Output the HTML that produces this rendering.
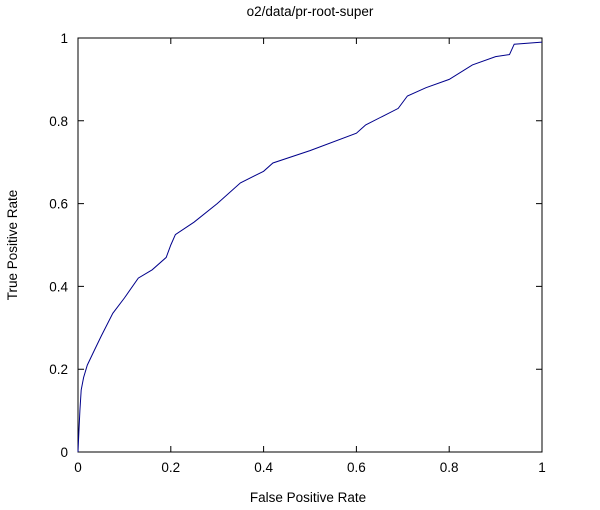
<!DOCTYPE html>
<html><head><meta charset="utf-8"><style>
body{margin:0;background:#fff}
svg{display:block;font-family:"Liberation Sans",sans-serif;font-size:13.5px}
</style></head><body>
<svg width="600" height="510">
<g id="g"></g>
</svg>
<script>
const fpr=[0,0.002,0.004,0.007,0.012,0.02,0.035,0.05,0.075,0.1,0.13,0.16,0.19,0.2,0.21,0.25,0.3,0.35,0.4,0.42,0.5,0.6,0.62,0.69,0.71,0.75,0.8,0.85,0.9,0.93,0.94,1];
const tpr=[0,0.05,0.1,0.15,0.18,0.21,0.245,0.28,0.335,0.372,0.42,0.44,0.47,0.5,0.525,0.555,0.6,0.65,0.678,0.698,0.728,0.77,0.79,0.83,0.86,0.88,0.9,0.935,0.955,0.96,0.985,0.99];
const xTicks=[0,0.2,0.4,0.6,0.8,1];
const yTicks=[0,0.2,0.4,0.6,0.8,1];
const L=78,R=542,T=38,B=452;
const X=v=>L+v*(R-L), Y=v=>B-v*(B-T);
const NS="http://www.w3.org/2000/svg", g=document.getElementById('g');
function mk(t,a,txt){const e=document.createElementNS(NS,t);for(const k in a)e.setAttribute(k,a[k]);if(txt!=null)e.textContent=txt;g.appendChild(e);return e;}
let f=mk('rect',{x:L,y:T,width:R-L,height:B-T,fill:'none',stroke:'#000','stroke-width':1});


xTicks.forEach(v=>{
 let l=mk('path',{d:`M${X(v)},${B}v-6M${X(v)},${T}v6`,stroke:'#000'});
 
 
 let t=mk('text',{x:X(v),y:B+20,'text-anchor':'middle'},String(v));
 
 
});
yTicks.forEach(v=>{
 let l=mk('path',{d:`M${L},${Y(v)}h6M${R},${Y(v)}h-6`,stroke:'#000'});
 
 
 let t=mk('text',{x:L-10,y:Y(v)+5,'text-anchor':'end'},String(v));
 
 
});
let d='';
fpr.forEach((v,i)=>{d+=(i?'L':'M')+X(v).toFixed(1)+','+Y(tpr[i]).toFixed(1);});
let p=mk('path',{d:d,fill:'none',stroke:'#00008b','stroke-width':1});


let ti=mk('text',{x:310,y:16,'text-anchor':'middle'},'o2/data/pr-root-super');


let xt=mk('text',{x:308,y:502,'text-anchor':'middle'},'False Positive Rate');


let yt=mk('text',{x:17,y:245,'text-anchor':'middle',transform:'rotate(-90 17 245)'},'True Positive Rate');


</script>
</body></html>
